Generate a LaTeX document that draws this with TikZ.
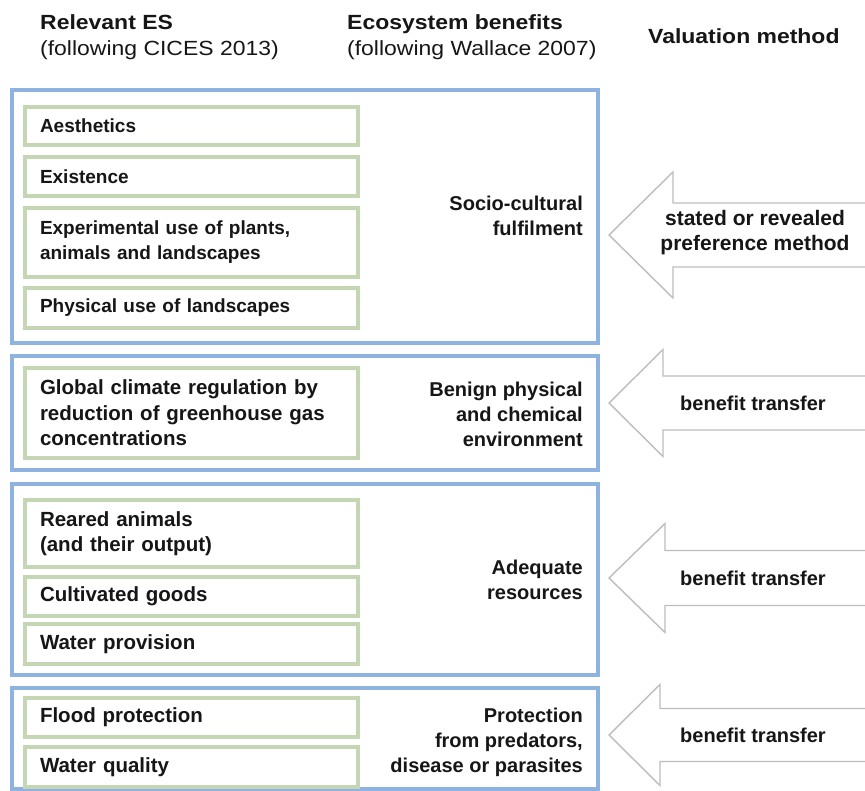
\documentclass[tikz,border=0pt]{standalone}
\usepackage{fontspec}
\setmainfont{Liberation Sans}
\newfontfamily\hdfont[FakeStretch=1.12]{Liberation Sans}
\usetikzlibrary{positioning}
\definecolor{grpblue}{HTML}{8FB3E0}
\definecolor{esgreen}{HTML}{C4D6B4}
\definecolor{arrgray}{HTML}{BDBDBD}
\definecolor{ink}{HTML}{161616}

\tikzset{
  hdbold/.style={font=\hdfont\bfseries\fontsize{20.5}{26}\selectfont, inner sep=0, text=ink},
  hdreg/.style={font=\hdfont\fontsize{20.5}{26}\selectfont, inner sep=0, text=ink},
  groupbox/.style={draw=grpblue, line width=3.5pt, fill=white, rectangle, anchor=north west, inner sep=0, outer sep=0},
  esbox/.style={draw=esgreen, line width=3.5pt, rectangle, minimum width=333pt, text width=303pt,
    inner xsep=15pt, inner ysep=0, outer sep=0, align=left, text=ink},
  esone/.style={esbox, font=\bfseries\fontsize{19}{25}\selectfont},
  estwo/.style={esbox, font=\bfseries\fontsize{20.5}{25.5}\selectfont},
  benefit/.style={anchor=east, align=right, inner sep=0, text=ink, font=\bfseries\fontsize{20}{25}\selectfont},
  arrowshape/.style={draw=arrgray, line width=1.4pt, fill=white, line join=miter},
  methodtext/.style={align=center, inner sep=0, text=ink, font=\bfseries\fontsize{20}{25}\selectfont}
}

% block arrow pointing left: centre line y, head half-height, shaft half-height, head back x
\newcommand\valarrow[4]{%
  \draw[arrowshape] (609,#1) -- (#4,#1-#2) -- (#4,#1-#3) -- (885,#1-#3)
    -- (885,#1+#3) -- (#4,#1+#3) -- (#4,#1+#2) -- cycle;}

\begin{document}
\begin{tikzpicture}[x=1pt, y=-1pt]
\useasboundingbox (0,0) rectangle (865,791);
\clip (0,0) rectangle (865,791);
\fill[white] (0,0) rectangle (865,791);

% column headings
\node[hdbold, anchor=base west] (hesA) at (40,30) {Relevant ES};
\node[hdreg,  anchor=base west] (hesB) at (40,56) {(following CICES 2013)};
\node[hdbold, anchor=base west] (hbenA) at (347,30) {Ecosystem benefits};
\node[hdreg,  anchor=base west] (hbenB) at (347,56) {(following Wallace 2007)};
\node[hdbold, anchor=base west] (hval) at (648,44) {Valuation method};

% benefit groups
\node[groupbox, minimum width=586pt, minimum height=253pt] (g1) at (12,90) {};
\node[groupbox, minimum width=586pt, minimum height=114pt] (g2) at (12,356) {};
\node[groupbox, minimum width=586pt, minimum height=191pt] (g3) at (12,484) {};
\node[groupbox, minimum width=586pt, minimum height=101pt] (g4) at (12,688) {};

% relevant ecosystem services
\node[esone, minimum height=38pt] (aes) at (191.5,126) {Aesthetics};
\node[esone, minimum height=39pt] (exi) at (191.5,176.5) {Existence};
\node[esone, minimum height=69pt] (exp) at (191.5,242.5) {Experimental use of plants,\\animals and landscapes};
\node[esone, minimum height=40pt] (phy) at (191.5,308) {Physical use of landscapes};

\node[estwo, minimum height=90pt] (glo) at (191.5,413) {Global climate regulation by\\reduction of greenhouse gas\\concentrations};

\node[estwo, minimum height=67pt] (rea) at (191.5,533.5) {Reared animals\\(and their output)};
\node[estwo, minimum height=39pt] (cul) at (191.5,596.5) {Cultivated goods};
\node[estwo, minimum height=40pt] (wpr) at (191.5,644) {Water provision};

\node[estwo, minimum height=39pt] (flo) at (191.5,717.5) {Flood protection};
\node[estwo, minimum height=40pt] (wqu) at (191.5,767) {Water quality};

% ecosystem benefits
\node[benefit] (b1) at (583,216) {Socio-cultural\\fulfilment};
\node[benefit] (b2) at (583,414) {Benign physical\\and chemical\\environment};
\node[benefit] (b3) at (583,580) {Adequate\\resources};
\node[benefit] (b4) at (583,742) {Protection\\from predators,\\disease or parasites};

% valuation methods
\valarrow{235}{63}{32}{673}
\valarrow{403}{53.5}{27}{663}
\valarrow{578}{54.5}{27.5}{665}
\valarrow{735}{50.5}{26.5}{660}
\node[methodtext, font=\bfseries\fontsize{21}{25}\selectfont] (m1) at (755,233) {stated or revealed\\preference method};
\node[methodtext] (m2) at (753,403) {benefit transfer};
\node[methodtext] (m3) at (753,578) {benefit transfer};
\node[methodtext] (m4) at (753,735) {benefit transfer};
\end{tikzpicture}
\end{document}
